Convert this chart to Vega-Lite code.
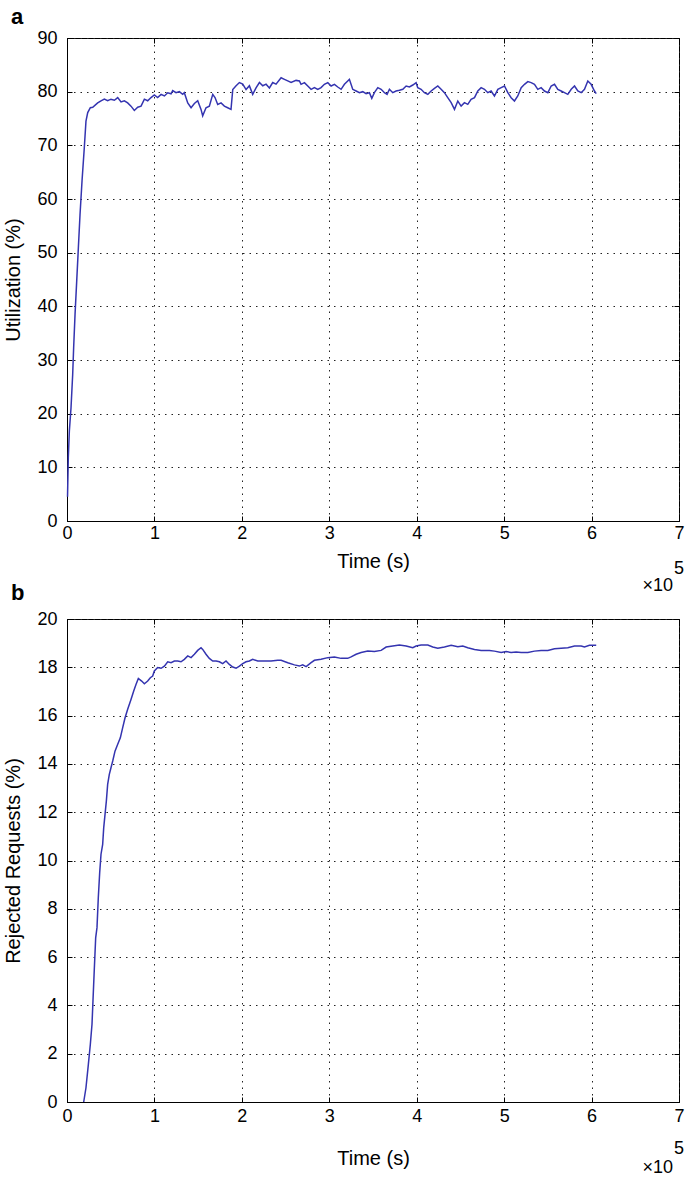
{
  "$schema": "https://vega.github.io/schema/vega-lite/v6.json",
  "padding": {"left": 2, "top": 5, "right": 0, "bottom": 0},
  "background": "white",
  "config": {
    "view": {"stroke": "#000", "strokeWidth": 1},
    "font": "Liberation Sans",
    "axis": {
      "domainColor": "#000", "domainWidth": 1,
      "tickColor": "#000", "tickSize": -5, "tickWidth": 1,
      "labelColor": "#000", "labelFontSize": 18, "labelFont": "Liberation Sans",
      "titleFont": "Liberation Sans", "titleFontSize": 20, "titleFontWeight": "normal", "titleColor": "#000",
      "gridColor": "#222", "gridDash": [1.5, 5], "gridWidth": 1, "gridOpacity": 1
    }
  },
  "datasets": {
    "util": [
      {"t":600,"u":4.5},{"t":1500,"u":11.8},{"t":2700,"u":16.8},{"t":4600,"u":21.1},{"t":6500,"u":27.3},{"t":7600,"u":32.3},{"t":9200,"u":38.5},{"t":11100,"u":44.7},{"t":13000,"u":50.9},{"t":14900,"u":57.1},{"t":17200,"u":63.4},{"t":19800,"u":69.6},{"t":21700,"u":74.5},{"t":23700,"u":76.1},{"t":26700,"u":77.0},
      {"t":29400,"u":77.1},{"t":35100,"u":77.9},{"t":38900,"u":78.3},{"t":42700,"u":78.6},{"t":46500,"u":78.3},{"t":50300,"u":78.6},{"t":54200,"u":78.4},{"t":58000,"u":78.9},{"t":61800,"u":78.1},{"t":65600,"u":78.3},{"t":69400,"u":77.9},{"t":73200,"u":77.3},{"t":77000,"u":76.5},{"t":80900,"u":77.1},{"t":84700,"u":77.3},{"t":88500,"u":78.6},{"t":92300,"u":78.3},{"t":96100,"u":78.9},{"t":99900,"u":79.4},{"t":103700,"u":78.9},{"t":107600,"u":79.5},{"t":111400,"u":79.2},{"t":115200,"u":79.8},{"t":119000,"u":79.6},{"t":120900,"u":80.2},{"t":124700,"u":79.8},{"t":128500,"u":80.0},{"t":132300,"u":79.5},{"t":134200,"u":79.8},{"t":138100,"u":77.9},{"t":141900,"u":77.0},{"t":145700,"u":77.8},{"t":149500,"u":78.3},{"t":153300,"u":76.7},{"t":155200,"u":75.5},{"t":159000,"u":77.0},{"t":162800,"u":77.3},{"t":166700,"u":79.5},{"t":169300,"u":78.9},{"t":172400,"u":77.6},{"t":176200,"u":77.9},{"t":180000,"u":77.3},{"t":183800,"u":77.0},{"t":187600,"u":76.7},{"t":189600,"u":80.4},{"t":193400,"u":81.1},{"t":197200,"u":81.7},{"t":201000,"u":81.4},{"t":204800,"u":80.4},{"t":208600,"u":81.1},{"t":212400,"u":79.5},{"t":216200,"u":80.7},{"t":220100,"u":81.7},{"t":223900,"u":81.1},{"t":227700,"u":81.4},{"t":231500,"u":80.7},{"t":235300,"u":81.7},{"t":239100,"u":81.4},{"t":244900,"u":82.6},{"t":248700,"u":82.3},{"t":252500,"u":82.0},{"t":256300,"u":81.7},{"t":262000,"u":82.1},{"t":265800,"u":82.0},
      {"t":267700,"u":81.37},{"t":271600,"u":81.68},{"t":275400,"u":81.06},{"t":279200,"u":80.44},{"t":283000,"u":80.75},{"t":286800,"u":80.44},{"t":290600,"u":80.75},{"t":294400,"u":81.37},{"t":298300,"u":81.68},{"t":302100,"u":81.06},{"t":305900,"u":81.37},{"t":309700,"u":80.87},{"t":313500,"u":80.44},{"t":317300,"u":81.37},{"t":321100,"u":81.99},{"t":323000,"u":82.3},{"t":326800,"u":80.44},{"t":330700,"u":80.12},{"t":334500,"u":79.81},{"t":338300,"u":80.0},{"t":342100,"u":79.63},{"t":345900,"u":79.81},{"t":348600,"u":78.76},{"t":351600,"u":79.81},{"t":355500,"u":80.75},{"t":359300,"u":80.44},{"t":363100,"u":79.81},{"t":366100,"u":79.5},{"t":368800,"u":80.44},{"t":372600,"u":79.81},{"t":376400,"u":80.12},{"t":380200,"u":80.25},{"t":384100,"u":80.44},{"t":387900,"u":81.06},{"t":391700,"u":80.87},{"t":395500,"u":81.24},{"t":399300,"u":81.68},{"t":401200,"u":80.75},{"t":405000,"u":80.44},{"t":408800,"u":79.81},{"t":412700,"u":79.5},{"t":416500,"u":80.12},{"t":420300,"u":80.62},{"t":424100,"u":81.06},{"t":427900,"u":80.44},{"t":431700,"u":79.81},{"t":435500,"u":78.88},{"t":439400,"u":77.95},{"t":443200,"u":76.7},{"t":447000,"u":78.26},{"t":450800,"u":77.32},{"t":454600,"u":77.95},{"t":458400,"u":77.64},{"t":462200,"u":78.57},{"t":466100,"u":78.88},{"t":469900,"u":80.12},{"t":473700,"u":80.75},{"t":477500,"u":80.44},{"t":481300,"u":79.81},{"t":485100,"u":80.12},{"t":488900,"u":79.19},{"t":492800,"u":80.44},{"t":496600,"u":80.75},{"t":500400,"u":81.06},{"t":504200,"u":79.81},{"t":508000,"u":78.88},{"t":511800,"u":78.26},{"t":515600,"u":79.19},{"t":519500,"u":80.75},{"t":523300,"u":81.37},{"t":527100,"u":81.87},{"t":530900,"u":81.68},{"t":534700,"u":81.37},{"t":538500,"u":80.44},{"t":542300,"u":80.75},{"t":546100,"u":80.12},{"t":550000,"u":79.81},{"t":553800,"u":81.06},{"t":557600,"u":81.37},{"t":561400,"u":80.44},{"t":565200,"u":80.12},{"t":569000,"u":79.81},{"t":572800,"u":79.5},{"t":576700,"u":80.44},{"t":580500,"u":81.06},{"t":584300,"u":80.12},{"t":588100,"u":79.81},{"t":591900,"u":80.44},{"t":595700,"u":81.99},{"t":599500,"u":81.37},{"t":603300,"u":80.12},{"t":605300,"u":79.63}
    ],
    "rej": [
      {"t":19100,"r":0},{"t":21700,"r":0.59},{"t":24400,"r":1.55},{"t":26700,"r":2.39},{"t":28600,"r":3.22},{"t":29700,"r":4.18},{"t":31300,"r":5.56},{"t":32800,"r":6.8},{"t":34300,"r":7.22},{"t":35800,"r":8.46},{"t":37400,"r":9.5},{"t":38900,"r":10.26},{"t":40800,"r":10.67},{"t":42000,"r":11.36},{"t":43500,"r":11.91},{"t":45000,"r":12.46},{"t":46500,"r":13.15},{"t":48400,"r":13.57},{"t":50300,"r":13.84},{"t":52300,"r":14.12},{"t":54900,"r":14.53},{"t":58000,"r":14.81},{"t":61000,"r":15.08},{"t":63700,"r":15.5},{"t":66400,"r":15.91},{"t":69400,"r":16.26},{"t":73200,"r":16.67},{"t":76300,"r":17.02},{"t":78900,"r":17.29},{"t":81600,"r":17.54},
      {"t":85400,"r":17.43},{"t":88500,"r":17.32},{"t":92300,"r":17.43},{"t":95300,"r":17.57},{"t":98000,"r":17.64},{"t":99900,"r":17.85},{"t":103700,"r":17.99},{"t":107600,"r":17.96},{"t":111400,"r":18.05},{"t":115200,"r":18.23},{"t":119000,"r":18.19},{"t":122800,"r":18.26},{"t":126600,"r":18.26},{"t":130400,"r":18.23},{"t":134200,"r":18.33},{"t":138100,"r":18.47},{"t":141900,"r":18.4},{"t":145700,"r":18.54},{"t":149500,"r":18.7},{"t":153300,"r":18.81},{"t":155200,"r":18.74},{"t":159000,"r":18.54},{"t":162800,"r":18.37},{"t":166700,"r":18.26},{"t":170500,"r":18.26},{"t":174300,"r":18.23},{"t":178100,"r":18.15},{"t":181900,"r":18.26},{"t":185700,"r":18.12},{"t":189600,"r":18.01},{"t":193400,"r":17.96},{"t":197200,"r":18.05},{"t":201000,"r":18.15},{"t":204800,"r":18.23},{"t":208600,"r":18.26},{"t":212400,"r":18.33},{"t":218200,"r":18.26},{"t":225800,"r":18.26},{"t":233400,"r":18.26},{"t":241000,"r":18.29},
      {"t":244900,"r":18.29},{"t":252500,"r":18.19},{"t":260100,"r":18.1},{"t":265800,"r":18.05},{"t":269600,"r":18.1},{"t":273500,"r":18.03},{"t":279200,"r":18.19},{"t":283000,"r":18.29},{"t":290600,"r":18.33},{"t":298300,"r":18.4},{"t":305900,"r":18.43},{"t":313500,"r":18.37},{"t":321100,"r":18.37},{"t":324900,"r":18.43},{"t":330700,"r":18.54},{"t":336400,"r":18.61},{"t":344000,"r":18.67},{"t":351600,"r":18.65},{"t":359300,"r":18.7},{"t":365000,"r":18.84},{"t":372600,"r":18.88},{"t":380200,"r":18.92},{"t":387900,"r":18.88},{"t":395500,"r":18.81},{"t":399300,"r":18.88},{"t":405000,"r":18.92},{"t":412700,"r":18.92},{"t":418400,"r":18.84},{"t":424100,"r":18.79},{"t":431700,"r":18.84},{"t":439400,"r":18.91},{"t":447000,"r":18.85},{"t":452700,"r":18.88},{"t":458400,"r":18.81},{"t":466100,"r":18.74},{"t":473700,"r":18.7},{"t":483200,"r":18.7},{"t":488900,"r":18.67},{"t":496600,"r":18.61},{"t":502300,"r":18.65},{"t":508000,"r":18.61},{"t":513700,"r":18.63},{"t":519500,"r":18.61},{"t":527100,"r":18.61},{"t":534700,"r":18.67},{"t":542300,"r":18.7},{"t":550000,"r":18.7},{"t":557600,"r":18.77},{"t":565200,"r":18.79},{"t":572800,"r":18.81},{"t":580500,"r":18.88},{"t":588100,"r":18.88},{"t":591900,"r":18.84},{"t":597600,"r":18.91},{"t":605300,"r":18.91}
    ]
  },
  "bounds": "flush",
  "spacing": 98,
  "vconcat": [
    {
      "width": 612,
      "height": 483,
      "title": {"text": "a", "anchor": "start", "frame": "group", "dx": -56, "offset": 0, "fontSize": 22, "fontWeight": "bold", "font": "Liberation Sans", "color": "#000"},
      "layer": [
        {
          "data": {"name": "util"},
          "mark": {"type": "line", "color": "#3434b0", "strokeWidth": 1.5},
          "encoding": {
            "x": {"field": "t", "type": "quantitative", "scale": {"domain": [0, 700000], "nice": false},
              "axis": {"orient": "bottom", "values": [0,100000,200000,300000,400000,500000,600000,700000], "labelExpr": "format(datum.value/100000, 'd')", "labelFlush": false, "labelOverlap": false, "labelPadding": 8, "grid": true, "title": "Time (s)", "titleX": 306, "titleY": 40, "titleBaseline": "middle"}},
            "y": {"field": "u", "type": "quantitative", "scale": {"domain": [0, 90], "nice": false},
              "axis": {"orient": "left", "values": [0,10,20,30,40,50,60,70,80,90], "labelPadding": 15, "labelOverlap": false, "grid": true, "title": "Utilization (%)", "titleX": -54, "titleY": 241.5, "titleAngle": -90, "titleBaseline": "middle"}}
          }
        },
        {
          "data": {"values": [{}]},
          "mark": {"type": "rule", "opacity": 0},
          "encoding": {
            "x": {"datum": 0, "type": "quantitative", "axis": {"orient": "top", "values": [0,100000,200000,300000,400000,500000,600000,700000], "labels": false, "grid": false, "domain": false, "title": null}},
            "y": {"datum": 0, "type": "quantitative", "axis": {"orient": "right", "values": [0,10,20,30,40,50,60,70,80,90], "labels": false, "grid": false, "domain": false, "title": null}}
          }
        },
        {
          "data": {"values": [{}]},
          "mark": {"type": "text", "text": "×10", "align": "right", "baseline": "middle", "dx": -6, "dy": 65, "fontSize": 18, "font": "Liberation Sans", "color": "#000"},
          "encoding": {"x": {"datum": 700000, "type": "quantitative", "axis": null}, "y": {"datum": 0, "type": "quantitative", "axis": null}}
        },
        {
          "data": {"values": [{}]},
          "mark": {"type": "text", "text": "5", "align": "left", "baseline": "middle", "dx": -5, "dy": 48, "fontSize": 18, "font": "Liberation Sans", "color": "#000"},
          "encoding": {"x": {"datum": 700000, "type": "quantitative", "axis": null}, "y": {"datum": 0, "type": "quantitative", "axis": null}}
        }
      ],
      "resolve": {"axis": {"x": "independent", "y": "independent"}}
    },
    {
      "width": 612,
      "height": 483,
      "title": {"text": "b", "anchor": "start", "frame": "group", "dx": -56, "offset": 5, "fontSize": 22, "fontWeight": "bold", "font": "Liberation Sans", "color": "#000"},
      "layer": [
        {
          "data": {"name": "rej"},
          "mark": {"type": "line", "color": "#3434b0", "strokeWidth": 1.5},
          "encoding": {
            "x": {"field": "t", "type": "quantitative", "scale": {"domain": [0, 700000], "nice": false},
              "axis": {"orient": "bottom", "values": [0,100000,200000,300000,400000,500000,600000,700000], "labelExpr": "format(datum.value/100000, 'd')", "labelFlush": false, "labelOverlap": false, "labelPadding": 10, "grid": true, "title": "Time (s)", "titleX": 306, "titleY": 56, "titleBaseline": "middle"}},
            "y": {"field": "r", "type": "quantitative", "scale": {"domain": [0, 20], "nice": false},
              "axis": {"orient": "left", "values": [0,2,4,6,8,10,12,14,16,18,20], "labelPadding": 15, "labelOverlap": false, "grid": true, "title": "Rejected Requests (%)", "titleX": -54, "titleY": 241.5, "titleAngle": -90, "titleBaseline": "middle"}}
          }
        },
        {
          "data": {"values": [{}]},
          "mark": {"type": "rule", "opacity": 0},
          "encoding": {
            "x": {"datum": 0, "type": "quantitative", "axis": {"orient": "top", "values": [0,100000,200000,300000,400000,500000,600000,700000], "labels": false, "grid": false, "domain": false, "title": null}},
            "y": {"datum": 0, "type": "quantitative", "axis": {"orient": "right", "values": [0,2,4,6,8,10,12,14,16,18,20], "labels": false, "grid": false, "domain": false, "title": null}}
          }
        },
        {
          "data": {"values": [{}]},
          "mark": {"type": "text", "text": "×10", "align": "right", "baseline": "middle", "dx": -6, "dy": 66, "fontSize": 18, "font": "Liberation Sans", "color": "#000"},
          "encoding": {"x": {"datum": 700000, "type": "quantitative", "axis": null}, "y": {"datum": 0, "type": "quantitative", "axis": null}}
        },
        {
          "data": {"values": [{}]},
          "mark": {"type": "text", "text": "5", "align": "left", "baseline": "middle", "dx": -5, "dy": 47, "fontSize": 18, "font": "Liberation Sans", "color": "#000"},
          "encoding": {"x": {"datum": 700000, "type": "quantitative", "axis": null}, "y": {"datum": 0, "type": "quantitative", "axis": null}}
        }
      ],
      "resolve": {"axis": {"x": "independent", "y": "independent"}}
    }
  ]
}
